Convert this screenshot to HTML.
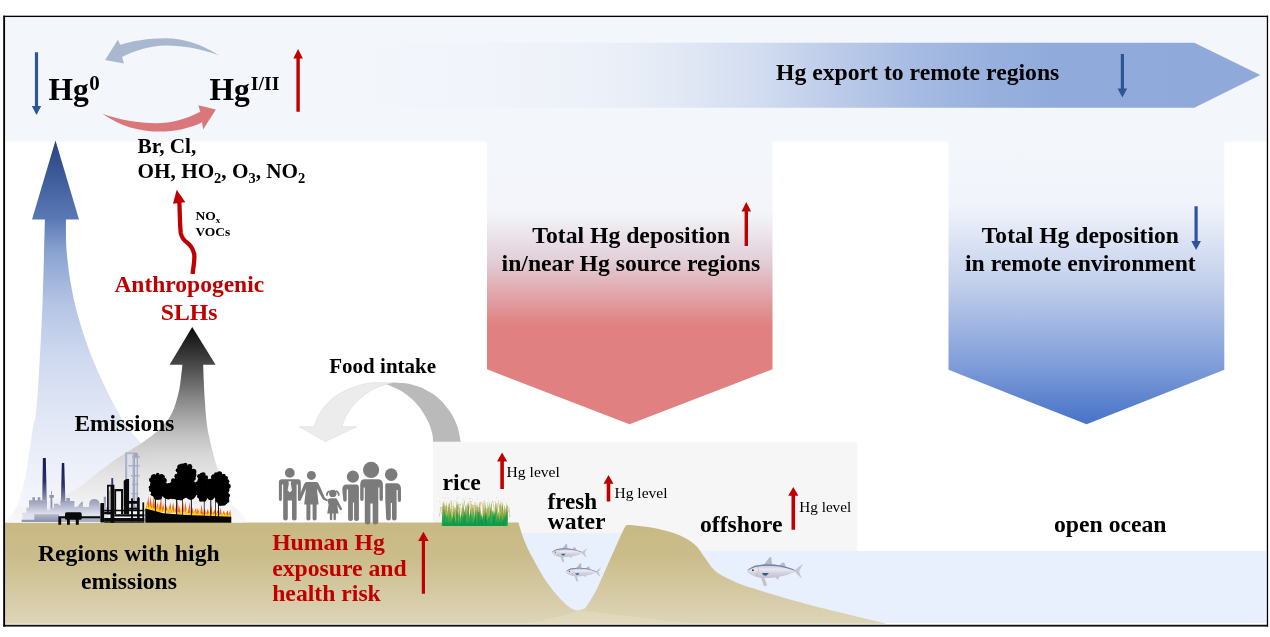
<!DOCTYPE html>
<html lang="en">
<head>
<meta charset="utf-8">
<title>Hg cycle and anthropogenic SLHs</title>
<style>
html,body{margin:0;padding:0;background:#fff;}
body{width:1270px;height:637px;overflow:hidden;position:relative;}
svg{position:absolute;left:0;top:0;display:block;will-change:transform;}
text{font-family:"Liberation Serif","Times New Roman",Times,serif;}
.b{font-weight:bold;}
.m{font-size:23.7px;font-weight:bold;fill:#000;}
.r{fill:#c00000;}
.lv{font-size:15.2px;fill:#000;}
</style>
</head>
<body>
<svg width="1270" height="637" viewBox="0 0 1270 637">
<defs>
  <linearGradient id="gExport" gradientUnits="userSpaceOnUse" x1="345" y1="0" x2="1260" y2="0">
    <stop offset="0" stop-color="#f3f6fb"/>
    <stop offset="0.15" stop-color="#f1f4fa"/>
    <stop offset="0.284" stop-color="#ecf0f8"/>
    <stop offset="0.366" stop-color="#e2e9f5"/>
    <stop offset="0.451" stop-color="#d2ddf0"/>
    <stop offset="0.536" stop-color="#bccbe9"/>
    <stop offset="0.619" stop-color="#a7bce3"/>
    <stop offset="0.705" stop-color="#97b0de"/>
    <stop offset="0.786" stop-color="#8faadb"/>
    <stop offset="1" stop-color="#8ea9da"/>
  </linearGradient>
  <linearGradient id="gRed" gradientUnits="userSpaceOnUse" x1="0" y1="141" x2="0" y2="425">
    <stop offset="0" stop-color="#f3f6fb"/>
    <stop offset="0.25" stop-color="#f3f5fa"/>
    <stop offset="0.42" stop-color="#e2cfd9"/>
    <stop offset="0.65" stop-color="#e08080"/>
    <stop offset="1" stop-color="#e08080"/>
  </linearGradient>
  <linearGradient id="gBlue" gradientUnits="userSpaceOnUse" x1="0" y1="141" x2="0" y2="425">
    <stop offset="0" stop-color="#f3f6fb"/>
    <stop offset="0.22" stop-color="#f1f4fa"/>
    <stop offset="0.5" stop-color="#c3d0ec"/>
    <stop offset="0.8" stop-color="#7d9bd8"/>
    <stop offset="1" stop-color="#4571c6"/>
  </linearGradient>
  <linearGradient id="gHg0" gradientUnits="userSpaceOnUse" x1="0" y1="140" x2="0" y2="523">
    <stop offset="0" stop-color="#284482"/>
    <stop offset="0.1" stop-color="#3f5d9b"/>
    <stop offset="0.205" stop-color="#5a79b4"/>
    <stop offset="0.293" stop-color="#8ba3d1"/>
    <stop offset="0.428" stop-color="#b4c4e4"/>
    <stop offset="0.56" stop-color="#ccd7ee" stop-opacity="0.97"/>
    <stop offset="0.70" stop-color="#dde4f4" stop-opacity="0.95"/>
    <stop offset="0.84" stop-color="#e9edf8" stop-opacity="0.9"/>
    <stop offset="1" stop-color="#f4f6fb" stop-opacity="0.8"/>
  </linearGradient>
  <linearGradient id="gEm" gradientUnits="userSpaceOnUse" x1="0" y1="327" x2="0" y2="523">
    <stop offset="0" stop-color="#0a0a0a"/>
    <stop offset="0.19" stop-color="#484848"/>
    <stop offset="0.38" stop-color="#8c8c8c"/>
    <stop offset="0.55" stop-color="#bebebe" stop-opacity="0.96"/>
    <stop offset="0.65" stop-color="#d4d4d4" stop-opacity="0.94"/>
    <stop offset="0.76" stop-color="#e3e3e3" stop-opacity="0.9"/>
    <stop offset="0.88" stop-color="#efefef" stop-opacity="0.85"/>
    <stop offset="1" stop-color="#f8f8f8" stop-opacity="0.7"/>
  </linearGradient>
  <linearGradient id="gGround" gradientUnits="userSpaceOnUse" x1="0" y1="522" x2="0" y2="624">
    <stop offset="0" stop-color="#c8b983"/>
    <stop offset="0.35" stop-color="#cbbd8b"/>
    <stop offset="1" stop-color="#ddd5b8"/>
  </linearGradient>
</defs>

<!-- background + top band -->
<rect x="0" y="0" width="1270" height="637" fill="#ffffff"/>
<rect x="4.5" y="16.5" width="1262" height="125" fill="#f3f6fb"/>

<!-- export arrow -->
<path d="M345 42.7H1194.3L1260.3 75L1194.3 107.7H345Z" fill="url(#gExport)"/>

<!-- deposition pentagons -->
<path d="M487 141H772.5V369.3L629.5 424.3L487 369.3Z" fill="url(#gRed)"/>
<path d="M948.5 141H1224.3V369.8L1086.6 424.3L948.5 369.8Z" fill="url(#gBlue)"/>

<!-- light grey panel behind rice / fresh water / offshore -->
<rect x="433" y="442" width="424.3" height="110" fill="#f6f6f6"/>
<!-- water: lake + ocean -->
<rect x="515" y="533" width="120" height="90" fill="#e8effd"/>
<rect x="640" y="551" width="626" height="72" fill="#e8effd"/>
<!-- ground -->
<path d="M5 522.6 H518.6 C518.9 523.8 519.5 526.4 520.5 529.5 C521.5 532.6 522.7 536.6 524.5 541.0 C526.3 545.4 527.7 548.9 531.5 555.9 C535.3 562.9 542.0 575.1 547.2 582.7 C552.5 590.3 559.0 597.4 563.0 601.6 C567.0 605.9 568.6 606.7 571.0 608.2 C573.4 609.7 575.3 610.2 577.2 610.4 C579.1 610.6 580.9 610.0 582.5 609.3 C584.1 608.6 584.1 609.9 586.6 606.3 C589.1 602.6 593.7 595.3 597.6 587.4 C601.5 579.5 606.2 568.0 610.2 559.1 C614.2 550.2 618.9 539.5 621.5 534.0 C624.1 528.5 624.9 527.2 625.6 525.8 C626.1 525.6 626.1 524.9 628.5 524.9 C630.9 524.9 635.2 525.4 640.0 526.0 C644.8 526.6 650.9 527.3 657.5 528.8 C664.1 530.3 673.2 532.5 679.5 535.2 C685.8 537.9 691.1 541.2 695.3 544.9 C699.5 548.6 701.6 553.3 704.7 557.5 C707.9 561.7 710.5 566.7 714.2 570.1 C717.9 573.5 720.5 575.0 726.8 578.0 C733.1 581.0 737.3 583.4 752.0 588.1 C766.7 592.8 792.6 600.4 815.0 606.3 C837.4 612.2 874.6 620.8 886.5 623.7 H5Z" fill="url(#gGround)"/>
<!-- faint shadow in the lake basin -->
<path d="M577 610.4 C600 612 640 618 700 623.7 H520 C545 620 565 616 577 610.4Z" fill="#e6dfc6" opacity="0.45"/>
<!-- big Hg0 upward arrow -->
<path d="M55.5 140.4 L79 219.4 H65.9 C66.0 224.8 65.7 240.2 66.7 252.0 C67.7 263.8 69.6 277.9 71.9 290.0 C74.2 302.1 77.0 313.0 80.5 324.5 C84.0 336.0 88.0 347.5 92.6 359.0 C97.2 370.5 103.6 384.1 108.2 393.6 C112.8 403.1 117.2 410.4 120.3 416.0 C123.4 421.6 122.7 421.7 127.0 427.0 C131.3 432.3 138.9 440.9 146.0 448.0 C153.1 455.1 160.6 462.4 169.6 469.5 C178.6 476.6 189.0 484.3 200.0 490.7 C211.0 497.1 227.5 502.7 235.5 508.0 C243.5 513.3 245.9 520.2 248.0 522.6 H5 C5.3 522.0 5.1 521.6 7.0 519.0 C8.9 516.4 13.3 514.5 16.5 507.0 C19.7 499.5 23.2 487.3 26.0 474.0 C28.8 460.7 31.4 436.7 33.0 427.0 C34.6 417.3 34.6 425.0 35.6 416.0 C36.6 407.0 37.9 391.7 39.0 373.0 C40.1 354.3 41.5 329.3 42.5 303.7 C43.5 278.1 44.5 233.4 44.9 219.4 H32Z" fill="url(#gHg0)"/>
<!-- emissions arrow -->
<path d="M192.2 327 L215.6 364.8 H203.2
 C203.6 380 204.2 392 205 402.5
 C205.8 416 207 427 208.9 435.5
 C210.8 445 213 454 215.5 462
 C218 470 220.5 478 223.8 485
 C227 492 229.5 498.5 232 504.8
 C234.5 510 238 516 241.5 522.6
 H12
 C13 514 14 509.5 15.7 508
 C20 506.8 25 506.4 29 506
 C43 504 56 499.5 66.7 494.8
 C76 490 84 484 91.3 477.8
 C100 471 108 465 116 459
 C127 452 137 446.5 146 440
 C156 433 162 427 166 422
 C171 416 174 409.5 175.9 402.5
 C178.6 394 180 387 180.8 379
 C181.4 374 182 369.5 182.4 364.8
 H169.6Z" fill="url(#gEm)"/>

<!-- Hg0 <-> HgI/II curved arrows -->
<path d="M218.7 55.2 C200 43 182 38.2 165.4 38.2 C148 38.2 132 41 120.2 44.8 L117.9 39.7 L105.1 59.9 L123.9 63.6 L122 57 C136 50 150 45.6 165.4 45.4 C184 45.4 202 49 218.7 55.2Z" fill="#a9b7cf"/>
<path transform="translate(0 -0.8)" d="M102.3 114.5 C120 127 140 132.4 159.7 132.4 C175 132.4 190 129 202.1 123 L203.1 130.2 L215.9 110.4 L198.4 106 L200.3 112.6 C186 120 172 124 156 124 C138 124 120 120.5 102.3 114.5Z" fill="#d9777a"/>

<!-- food intake curved arrow -->
<path d="M396.3 382.8 C392.8 382.8 380.9 382.5 375.0 382.8 C369.1 383.1 365.6 383.7 360.9 384.9 C356.2 386.1 350.9 388.0 346.7 389.9 C342.4 391.8 338.9 393.7 335.4 396.3 C331.8 398.9 328.2 402.2 325.4 405.5 C322.5 408.8 320.2 412.6 318.3 416.1 C316.4 419.6 314.8 424.9 314.1 426.7 H299.2 L325.4 441.6 L356.6 426.7 H341.7 C342.5 424.7 344.7 418.3 346.7 414.7 C348.7 411.1 351.0 408.0 353.8 404.8 C356.6 401.6 360.2 398.2 363.7 395.5 C367.2 392.8 371.2 390.4 375.0 388.5 C378.8 386.6 384.5 384.9 386.4 384.2 Z" fill="#ececec" stroke="#dcdcdc" stroke-width="0.6"/>
<path d="M386.4 384.2 C387.2 384.0 389.4 383.4 391.0 383.2 C392.6 383.0 393.1 382.6 396.3 382.8 C399.6 383.0 405.8 383.1 410.5 384.2 C415.2 385.3 419.9 386.8 424.6 389.2 C429.3 391.6 434.6 394.6 438.8 398.4 C443.1 402.2 447.0 407.2 450.1 411.8 C453.2 416.4 455.4 421.0 457.2 426.0 C459.0 431.0 460.2 439.2 460.8 441.8 H433.1 C433.0 440.6 433.1 437.6 432.4 434.5 C431.7 431.4 430.7 427.2 428.9 423.2 C427.1 419.2 424.6 414.4 421.8 410.4 C419.0 406.4 415.4 402.4 411.9 399.1 C408.3 395.8 404.8 393.1 400.5 390.6 C396.2 388.1 388.8 385.3 386.4 384.2 Z" fill="#bababa"/>

<!-- small straight arrows -->
<g fill="#2f5597">
  <path d="M34.9 52.2H38.1V106H41.2L36.5 115L31.8 106H34.9Z"/>
  <path d="M1120.8 54H1124V88.6H1127.2L1122.4 97.6L1117.6 88.6H1120.8Z"/>
  <path d="M1194.5 206.2H1197.7V241H1200.9L1196.1 250L1191.3 241H1194.5Z"/>
</g>
<g fill="#c00000">
  <path d="M296.4 111.8H299.8V58.4H302.9L298.1 49L293.3 58.4H296.4Z"/>
  <path d="M744.6 246H748V211.4H751.1L746.3 202.1L741.5 211.4H744.6Z"/>
  <path d="M421.8 593.7H425V541H428.6L423.4 531.7L418.2 541H421.8Z"/>
  <path d="M500.3 489H503.9V461.5H507.2L502.1 452.6L497 461.5H500.3Z"/>
  <path d="M606.7 501.6H610.3V483.8H613.5L608.5 475L603.5 483.8H606.7Z"/>
  <path d="M791.5 529.8H795.1V495.8H798.4L793.3 487L788.2 495.8H791.5Z"/>
</g>
<!-- wavy arrow from SLHs to oxidants -->
<path d="M192.6 274 C193.4 266 195 260 194.2 254 C192.6 247.5 190 244.8 187 242.6 C183.5 240 181.6 238 180.8 233 C179.8 225 179.9 212 179.3 201.5" fill="none" stroke="#c00000" stroke-width="4.3" stroke-linecap="butt"/>
<path d="M176.7 189.8 L185.4 202.3 L173 203.8Z" fill="#c00000"/>

<!-- people -->
<g fill="#7b7b7b">
  <!-- man with tie -->
  <circle cx="289.8" cy="472.9" r="4.9"/>
  <path d="M281.2 479.3 H298.6 Q300.8 479.3 300.8 481.8 V499 Q300.8 501 299.3 501 Q297.9 501 297.9 499 V484.5 H296.6 V518.6 Q296.6 520.5 294.3 520.5 Q292 520.5 292 518.6 V500.5 H287.8 V518.6 Q287.8 520.5 285.5 520.5 Q283.2 520.5 283.2 518.6 V484.5 H281.9 V499 Q281.9 501 280.4 501 Q278.9 501 278.9 499 V481.8 Q278.9 479.3 281.2 479.3Z"/>
  <!-- woman -->
  <circle cx="311.4" cy="475.4" r="4.5"/>
  <path d="M306.6 482 H316.4 Q318 482 318.8 484 L325 498 L327.8 499.4 L326.9 501.2 L322.9 499.4 L316.9 488.5 L318.6 504.6 H316.6 V518.7 Q316.6 520.4 314.6 520.4 Q312.6 520.4 312.6 518.7 V504.6 H310.4 V518.7 Q310.4 520.4 308.4 520.4 Q306.4 520.4 306.4 518.7 V504.6 H304.2 L306 488.5 L301.2 499.6 Q300.3 501.2 298.9 500.4 Q297.7 499.6 298.5 498 L304.2 484 Q305 482 306.6 482Z"/>
  <!-- girl -->
  <circle cx="332.8" cy="493.4" r="3.7"/>
  <path d="M326 495.8 Q325.6 491.2 329.6 490.2 L330 491.6 Q327.6 492.6 327.6 495.8Z"/>
  <path d="M339.6 495.8 Q340 491.2 336 490.2 L335.6 491.6 Q338 492.6 338 495.8Z"/>
  <path d="M330.3 498.3 H335.4 Q336.6 498.3 337.2 499.6 L341.9 508.4 Q342.4 509.6 341.4 510.1 Q340.4 510.6 339.8 509.5 L337.3 505 L338.4 513.4 H335.9 V519 Q335.9 520.3 334.7 520.3 Q333.5 520.3 333.5 519 V513.4 H332.2 V519 Q332.2 520.3 331 520.3 Q329.8 520.3 329.8 519 V513.4 H327.3 L328.6 504.5 L327.3 500.2 L328.3 498.9 Z"/>
  <!-- person 4 -->
  <circle cx="352.9" cy="476.7" r="6.1"/>
  <path d="M346.6 484.4 H356.4 Q358.9 484.4 358.9 487.4 V519 Q358.9 521 356.5 521 Q354.1 521 354.1 519 V502.5 H352.9 V519 Q352.9 521 350.5 521 Q348.1 521 348.1 519 V489.5 H346.7 V500 Q346.7 501.8 345 501.8 Q343.3 501.8 343.3 500 L342.3 490 Q342.2 484.4 346.6 484.4Z"/>
  <!-- big person 5 -->
  <circle cx="371.1" cy="469.9" r="8.1"/>
  <path d="M364.5 479.3 H377.9 Q382.9 479.3 382.9 485 V499 Q382.9 501 381.2 501 Q379.5 501 379.5 499 V487.5 H378.3 V522.3 Q378.3 524.4 375.5 524.4 Q372.7 524.4 372.7 522.3 V503.5 H370.4 V522.3 Q370.4 524.4 367.6 524.4 Q364.8 524.4 364.8 522.3 V487.5 H363.6 V499 Q363.6 501 361.9 501 Q360.2 501 360.2 499 V485 Q360.2 479.3 364.5 479.3Z"/>
  <!-- person 6 -->
  <circle cx="391.2" cy="474.6" r="6.3"/>
  <path d="M386.2 483.3 H396 Q401 483.3 401 489 V500.3 Q401 502 399.4 502 Q397.8 502 397.8 500.3 V490 H396.6 V518.5 Q396.6 520.4 394.3 520.4 Q392 520.4 392 518.5 V503 H390.8 V518.5 Q390.8 520.4 388.5 520.4 Q386.2 520.4 386.2 518.5 L385.3 500 V488 Q385 483.3 386.2 483.3Z"/>
</g>
<!-- tie -->
<path d="M288.4 481.3 H291.2 L290.8 483.6 L292 490.3 L289.8 492.4 L287.6 490.3 L288.8 483.6Z" fill="#f4f4f4"/>
<!-- factory skyline (drawn in 7.496x zoom coordinates) -->
<defs>
  <linearGradient id="gChim" x1="0" y1="0" x2="0" y2="1">
    <stop offset="0" stop-color="#141a55"/>
    <stop offset="0.55" stop-color="#2a3168"/>
    <stop offset="1" stop-color="#9499b5"/>
  </linearGradient>
  <linearGradient id="gBld" gradientUnits="userSpaceOnUse" x1="0" y1="390" x2="0" y2="520">
    <stop offset="0" stop-color="#8f94b2"/>
    <stop offset="0.35" stop-color="#a6aac2"/>
    <stop offset="1" stop-color="#dfe1ec"/>
  </linearGradient>
  <linearGradient id="gBase" gradientUnits="userSpaceOnUse" x1="0" y1="515" x2="0" y2="578">
    <stop offset="0" stop-color="#b7bace"/>
    <stop offset="1" stop-color="#8a8fab"/>
  </linearGradient>
  <linearGradient id="gTower" gradientUnits="userSpaceOnUse" x1="0" y1="55" x2="0" y2="490">
    <stop offset="0" stop-color="#aeb3ca"/>
    <stop offset="0.6" stop-color="#a0a5bf"/>
    <stop offset="1" stop-color="#868baa"/>
  </linearGradient>
</defs>
<g transform="translate(15 445) scale(0.1334)">
  <!-- tall distillation tower -->
  <path d="M825 55H915V480H825Z M842 70V470H880V70Z" fill="url(#gTower)" fill-rule="evenodd" opacity="0.9"/>
  <rect x="842" y="70" width="38" height="400" fill="#dfe2ec" opacity="0.75"/>
  <path d="M893 60H922V470H893Z" fill="#9fa4be" opacity="0.85"/>
  <path d="M900 95H912V460H900Z" fill="#e9ebf3" opacity="0.8"/>
  <path d="M880 80H935V96H880Z M850 150H935V162H850Z M870 225H935V236H870Z M878 290H925V300H878Z M870 360H925V370H870Z" fill="#a4a9c2" opacity="0.85"/>
  <!-- background buildings -->
  <path d="M55 575V508H85V470H105V415H130V392H150V415H170V392H190V415H240V470H292V440H328V452H340V420H385V398H412V420H445V465H465L500 425H510V465H555V440Q560 405 595 405Q630 405 635 440V465H665V388H682V465H700V575Z" fill="url(#gBld)"/>
  <path d="M50 560H145V520H330V578H50Z" fill="url(#gBase)"/>
  <path d="M330 548H700V578H330Z" fill="#9da1ba" opacity="0.8"/>
  <!-- antenna -->
  <path d="M270 345H276V375H292V395H280V470H266V395H258V375H270Z" fill="#8f94b2"/>
  <path d="M240 455H262V490H240Z" fill="#eef0f6" opacity="0.8"/>
  <!-- chimneys -->
  <path d="M209 97H231L238 415H204Z" fill="url(#gChim)"/>
  <path d="M351 135H369L378 425H344Z" fill="url(#gChim)"/>
  <rect x="722" y="248" width="14" height="55" fill="#2a3a8c"/>
  <!-- black pipework -->
  <g fill="#0a0a0a">
    <rect x="375" y="505" width="125" height="56" rx="12"/>
    <rect x="390" y="555" width="21" height="43"/>
    <rect x="456" y="555" width="22" height="43"/>
    <path d="M325 535H640V549H346V598H325Z"/>
    <rect x="640" y="435" width="28" height="146" rx="6"/>
    <path d="M690 298H745V582H716V520H690Z M703 312V500H716V312Z" fill-rule="evenodd"/>
    <path d="M745 330H810V520H795V346H758V520H745Z"/>
    <path d="M815 268L835 255H855V520H815Z"/>
    <path d="M668 485H970V497H668Z M745 520H970V536H745Z M668 548H970V572H668Z"/>
    <path d="M915 400L925 388L935 400V572H915Z"/>
    <rect x="955" y="430" width="13" height="142"/>
    <path d="M668 500H745V520H668Z M820 420H915V440H820Z M855 470H915V485H855Z M668 572H970V582H668Z"/>
    <rect x="870" y="400" width="14" height="172"/>
  </g>
  <path d="M706 340H713V480H706Z" fill="#8c8c8c" opacity="0.7"/>
</g>
<!-- FOREST:BEGIN -->
<!-- burning forest (drawn in 8.49x zoom coordinates) -->
<defs>
  <filter id="leaf" x="-5%" y="-5%" width="110%" height="110%">
    <feTurbulence type="fractalNoise" baseFrequency="0.06" numOctaves="2" seed="4" result="n"/>
    <feDisplacementMap in="SourceGraphic" in2="n" scale="14" xChannelSelector="R" yChannelSelector="G"/>
  </filter>
</defs>
<g transform="translate(140 455) scale(0.11779)">
  <path d="M45 469L56 396L67 447L68 382L89 450L108 408L111 461L126 387L133 470L150 405L155 469L168 408L177 477L192 432L199 484L219 419L221 481L236 436L243 482L247 418L265 492L279 417L287 493L297 439L309 491L328 439L331 490L351 431L353 499L377 434L375 497L391 442L397 499L412 461L419 495L433 471L441 505L462 465L463 507L475 455L485 505L502 448L507 500L518 470L529 510L543 476L551 510L564 483L573 503L584 457L595 508L610 467L617 508L629 460L639 508L658 483L661 511L668 476L683 512L699 493L705 517L721 478L727 516L734 478L749 519L762 481L771 517L775 539Z" fill="#ffe100"/>
  <path d="M50 470L73 346L77 452L88 351L104 458L116 353L131 468L153 396L158 478L181 351L185 478L196 407L212 490L217 410L239 487L259 400L266 487L283 401L293 493L319 379L320 491L329 419L347 500L367 400L374 499L385 395L401 503L424 401L428 502L449 445L455 504L476 447L482 501L488 449L509 509L522 421L536 506L548 451L563 506L573 457L590 510L606 426L617 506L637 459L644 509L660 467L671 514L681 444L698 517L710 472L725 513L747 465L752 516L766 462L772 519L772 539Z" fill="#f4541e" opacity="0.92"/>
  <path d="M48 470L66 409L72 453L83 418L96 451L105 439L120 464L134 415L144 470L152 432L168 476L186 450L192 485L204 447L216 488L233 458L240 484L257 450L264 490L274 457L288 486L293 467L312 494L324 478L336 493L357 469L360 498L383 461L384 496L392 461L408 495L433 488L432 505L457 486L456 498L469 473L480 508L505 477L504 504L514 494L528 508L539 495L552 510L555 494L576 505L589 479L600 505L619 495L624 507L642 488L648 512L658 489L672 513L686 499L696 511L709 497L720 511L727 495L744 516L767 500L768 518L770 539Z" fill="#ffd21a"/>
  <g fill="#050505">
    <path d="M45 455L200 495L400 510L775 525V576H45Z"/>
    <rect x="127" y="330" width="8" height="157"/><rect x="212" y="330" width="6" height="176"/><rect x="307" y="330" width="8" height="183"/><rect x="357" y="330" width="6" height="187"/><rect x="432" y="330" width="8" height="191"/><rect x="542" y="330" width="6" height="196"/><rect x="597" y="330" width="8" height="198"/><rect x="637" y="330" width="6" height="200"/><rect x="662" y="330" width="8" height="201"/>
    <g filter="url(#leaf)"><ellipse cx="150" cy="270" rx="66" ry="105"/><ellipse cx="385" cy="172" rx="74" ry="88"/><ellipse cx="330" cy="290" rx="92" ry="92"/><ellipse cx="430" cy="295" rx="56" ry="88"/><ellipse cx="530" cy="280" rx="52" ry="115"/><ellipse cx="672" cy="258" rx="84" ry="100"/><ellipse cx="700" cy="355" rx="58" ry="76"/><ellipse cx="240" cy="315" rx="56" ry="62"/><ellipse cx="600" cy="305" rx="46" ry="78"/><circle cx="212" cy="255" r="21"/><circle cx="206" cy="307" r="19"/><circle cx="197" cy="329" r="22"/><circle cx="168" cy="361" r="19"/><circle cx="150" cy="365" r="16"/><circle cx="135" cy="362" r="18"/><circle cx="105" cy="334" r="15"/><circle cx="91" cy="295" r="16"/><circle cx="88" cy="273" r="14"/><circle cx="97" cy="213" r="21"/><circle cx="111" cy="187" r="20"/><circle cx="119" cy="179" r="17"/><circle cx="150" cy="165" r="15"/><circle cx="181" cy="179" r="18"/><circle cx="189" cy="187" r="22"/><circle cx="204" cy="217" r="23"/><circle cx="457" cy="169" r="22"/><circle cx="453" cy="199" r="21"/><circle cx="440" cy="224" r="16"/><circle cx="405" cy="252" r="18"/><circle cx="379" cy="255" r="18"/><circle cx="348" cy="243" r="25"/><circle cx="330" cy="225" r="24"/><circle cx="318" cy="201" r="23"/><circle cx="313" cy="180" r="21"/><circle cx="321" cy="130" r="18"/><circle cx="341" cy="103" r="25"/><circle cx="356" cy="92" r="20"/><circle cx="384" cy="85" r="20"/><circle cx="422" cy="97" r="20"/><circle cx="428" cy="102" r="17"/><circle cx="453" cy="143" r="26"/><circle cx="418" cy="285" r="18"/><circle cx="409" cy="323" r="20"/><circle cx="390" cy="347" r="19"/><circle cx="348" cy="368" r="19"/><circle cx="319" cy="369" r="15"/><circle cx="278" cy="354" r="21"/><circle cx="253" cy="325" r="19"/><circle cx="242" cy="290" r="15"/><circle cx="246" cy="258" r="21"/><circle cx="281" cy="214" r="17"/><circle cx="315" cy="201" r="19"/><circle cx="360" cy="205" r="22"/><circle cx="383" cy="217" r="22"/><circle cx="414" cy="259" r="19"/><circle cx="578" cy="288" r="16"/><circle cx="574" cy="319" r="14"/><circle cx="556" cy="368" r="13"/><circle cx="547" cy="378" r="18"/><circle cx="516" cy="380" r="16"/><circle cx="496" cy="354" r="12"/><circle cx="488" cy="330" r="14"/><circle cx="482" cy="278" r="13"/><circle cx="484" cy="240" r="15"/><circle cx="505" cy="181" r="20"/><circle cx="523" cy="166" r="16"/><circle cx="537" cy="166" r="20"/><circle cx="560" cy="190" r="18"/><circle cx="570" cy="214" r="14"/><circle cx="748" cy="265" r="22"/><circle cx="740" cy="297" r="20"/><circle cx="731" cy="314" r="20"/><circle cx="702" cy="342" r="17"/><circle cx="683" cy="349" r="17"/><circle cx="650" cy="347" r="14"/><circle cx="627" cy="335" r="24"/><circle cx="618" cy="326" r="20"/><circle cx="596" cy="284" r="23"/><circle cx="592" cy="253" r="17"/><circle cx="596" cy="225" r="24"/><circle cx="617" cy="186" r="15"/><circle cx="623" cy="179" r="15"/><circle cx="646" cy="165" r="18"/><circle cx="675" cy="160" r="23"/><circle cx="712" cy="175" r="15"/><circle cx="730" cy="195" r="17"/><circle cx="743" cy="222" r="16"/><circle cx="752" cy="343" r="13"/><circle cx="743" cy="389" r="16"/><circle cx="715" cy="417" r="12"/><circle cx="681" cy="415" r="17"/><circle cx="656" cy="386" r="17"/><circle cx="649" cy="360" r="15"/><circle cx="654" cy="317" r="17"/><circle cx="679" cy="286" r="16"/><circle cx="712" cy="282" r="16"/><circle cx="740" cy="306" r="12"/></g>
  </g>
</g>
<!-- FOREST:END -->
<!-- RICE:BEGIN -->
<!-- rice plants (drawn in 15.875x zoom coordinates) -->
<g transform="translate(435 490) scale(0.062992)">
<ellipse cx="284" cy="260" rx="6" ry="9" fill="#7fbf4f" opacity="0.76"/><ellipse cx="1059" cy="212" rx="6" ry="9" fill="#d9b36a" opacity="0.41"/><ellipse cx="533" cy="231" rx="6" ry="9" fill="#e3c788" opacity="0.49"/><ellipse cx="753" cy="253" rx="6" ry="9" fill="#9acb5a" opacity="0.40"/><ellipse cx="564" cy="139" rx="6" ry="9" fill="#7fbf4f" opacity="0.67"/><ellipse cx="949" cy="184" rx="6" ry="9" fill="#e3c788" opacity="0.43"/><ellipse cx="697" cy="211" rx="6" ry="9" fill="#d9b36a" opacity="0.47"/><ellipse cx="973" cy="116" rx="6" ry="9" fill="#7fbf4f" opacity="0.66"/><ellipse cx="701" cy="233" rx="6" ry="9" fill="#7fbf4f" opacity="0.73"/><ellipse cx="601" cy="245" rx="6" ry="9" fill="#7fbf4f" opacity="0.61"/><ellipse cx="335" cy="179" rx="6" ry="9" fill="#7fbf4f" opacity="0.68"/><ellipse cx="491" cy="127" rx="6" ry="9" fill="#7fbf4f" opacity="0.68"/><ellipse cx="597" cy="151" rx="6" ry="9" fill="#d9b36a" opacity="0.79"/><ellipse cx="704" cy="198" rx="6" ry="9" fill="#9acb5a" opacity="0.79"/><ellipse cx="1166" cy="137" rx="6" ry="9" fill="#9acb5a" opacity="0.45"/><ellipse cx="732" cy="204" rx="6" ry="9" fill="#7fbf4f" opacity="0.67"/><ellipse cx="376" cy="199" rx="6" ry="9" fill="#9acb5a" opacity="0.41"/><ellipse cx="92" cy="222" rx="6" ry="9" fill="#9acb5a" opacity="0.46"/><ellipse cx="1096" cy="149" rx="6" ry="9" fill="#d9b36a" opacity="0.61"/><ellipse cx="843" cy="149" rx="6" ry="9" fill="#9acb5a" opacity="0.54"/><ellipse cx="1006" cy="256" rx="6" ry="9" fill="#d9b36a" opacity="0.47"/><ellipse cx="553" cy="135" rx="6" ry="9" fill="#9acb5a" opacity="0.72"/><ellipse cx="131" cy="256" rx="6" ry="9" fill="#d9b36a" opacity="0.80"/><ellipse cx="966" cy="256" rx="6" ry="9" fill="#e3c788" opacity="0.79"/><ellipse cx="207" cy="129" rx="6" ry="9" fill="#d9b36a" opacity="0.51"/><ellipse cx="1029" cy="252" rx="6" ry="9" fill="#9acb5a" opacity="0.66"/><ellipse cx="1040" cy="227" rx="6" ry="9" fill="#9acb5a" opacity="0.59"/><ellipse cx="676" cy="149" rx="6" ry="9" fill="#d9b36a" opacity="0.66"/><ellipse cx="296" cy="209" rx="6" ry="9" fill="#7fbf4f" opacity="0.42"/><ellipse cx="451" cy="144" rx="6" ry="9" fill="#7fbf4f" opacity="0.63"/><ellipse cx="76" cy="180" rx="6" ry="9" fill="#d9b36a" opacity="0.68"/><ellipse cx="839" cy="200" rx="6" ry="9" fill="#d9b36a" opacity="0.72"/><ellipse cx="585" cy="184" rx="6" ry="9" fill="#7fbf4f" opacity="0.64"/><ellipse cx="414" cy="210" rx="6" ry="9" fill="#e3c788" opacity="0.73"/><ellipse cx="308" cy="174" rx="6" ry="9" fill="#d9b36a" opacity="0.78"/><ellipse cx="119" cy="121" rx="6" ry="9" fill="#d9b36a" opacity="0.57"/><ellipse cx="483" cy="260" rx="6" ry="9" fill="#9acb5a" opacity="0.44"/><ellipse cx="350" cy="129" rx="6" ry="9" fill="#9acb5a" opacity="0.79"/><ellipse cx="158" cy="122" rx="6" ry="9" fill="#d9b36a" opacity="0.65"/><ellipse cx="216" cy="235" rx="6" ry="9" fill="#d9b36a" opacity="0.69"/>
<path d="M103 565Q118 371 147 212Q144 388 137 565Z" fill="#4da040"/><path d="M113 565Q133 384 174 235Q160 400 145 565Z" fill="#8db544"/><path d="M124 565Q124 383 121 235Q144 400 154 565Z" fill="#4da040"/><path d="M137 565Q141 362 146 195Q159 380 163 565Z" fill="#9cbb4c"/><path d="M144 565Q142 356 132 185Q161 375 176 565Z" fill="#8db544"/><path d="M153 565Q148 342 130 159Q167 362 186 565Z" fill="#8db544"/><path d="M170 565Q190 398 231 262Q216 413 200 565Z" fill="#8db544"/><path d="M177 565Q178 342 173 160Q200 362 213 565Z" fill="#9cbb4c"/><path d="M193 565Q191 392 181 251Q207 408 219 565Z" fill="#7aa83c"/><path d="M202 565Q212 355 230 182Q235 374 233 565Z" fill="#5fa23a"/><path d="M211 565Q214 393 215 252Q235 408 243 565Z" fill="#8db544"/><path d="M222 565Q218 364 205 199Q240 382 257 565Z" fill="#7aa83c"/><path d="M240 565Q245 392 251 251Q266 408 270 565Z" fill="#9cbb4c"/><path d="M254 565Q247 374 227 218Q261 392 279 565Z" fill="#8db544"/><path d="M267 565Q263 343 251 162Q279 363 293 565Z" fill="#9cbb4c"/><path d="M275 565Q284 393 299 252Q308 408 308 565Z" fill="#7aa83c"/><path d="M291 565Q294 358 298 188Q313 376 318 565Z" fill="#9cbb4c"/><path d="M304 565Q308 414 311 291Q329 428 336 565Z" fill="#8db544"/><path d="M318 565Q326 346 341 166Q346 366 345 565Z" fill="#5fa23a"/><path d="M326 565Q338 356 359 185Q362 375 359 565Z" fill="#5fa23a"/><path d="M341 565Q337 409 323 281Q359 423 377 565Z" fill="#4da040"/><path d="M360 565Q374 419 401 300Q396 433 388 565Z" fill="#5fa23a"/><path d="M369 565Q365 387 351 242Q386 403 404 565Z" fill="#7aa83c"/><path d="M383 565Q384 394 380 255Q407 410 419 565Z" fill="#4da040"/><path d="M404 565Q418 370 447 210Q439 388 429 565Z" fill="#9cbb4c"/><path d="M415 565Q420 417 426 296Q438 431 441 565Z" fill="#4da040"/><path d="M428 565Q434 341 444 159Q455 362 458 565Z" fill="#5fa23a"/><path d="M443 565Q447 398 452 261Q464 413 468 565Z" fill="#9cbb4c"/><path d="M453 565Q453 378 446 225Q475 395 488 565Z" fill="#5fa23a"/><path d="M465 565Q473 381 487 231Q495 398 496 565Z" fill="#4da040"/><path d="M476 565Q491 357 522 187Q517 376 508 565Z" fill="#7aa83c"/><path d="M493 565Q505 392 530 250Q527 408 520 565Z" fill="#9cbb4c"/><path d="M499 565Q514 341 542 158Q541 361 535 565Z" fill="#5fa23a"/><path d="M515 565Q510 374 492 218Q527 391 546 565Z" fill="#5fa23a"/><path d="M527 565Q529 399 528 264Q548 414 557 565Z" fill="#5fa23a"/><path d="M536 565Q551 369 580 208Q578 387 570 565Z" fill="#5fa23a"/><path d="M554 565Q572 408 607 279Q596 422 584 565Z" fill="#5fa23a"/><path d="M572 565Q579 379 592 227Q598 396 598 565Z" fill="#5fa23a"/><path d="M584 565Q597 383 622 233Q622 399 616 565Z" fill="#9cbb4c"/><path d="M594 565Q604 358 623 188Q628 376 626 565Z" fill="#9cbb4c"/><path d="M608 565Q625 376 660 222Q648 394 635 565Z" fill="#7aa83c"/><path d="M619 565Q629 374 648 217Q649 391 645 565Z" fill="#8db544"/><path d="M632 565Q638 419 648 299Q657 432 659 565Z" fill="#7aa83c"/><path d="M646 565Q666 413 708 288Q691 427 675 565Z" fill="#4da040"/><path d="M654 565Q659 384 664 235Q680 400 685 565Z" fill="#4da040"/><path d="M666 565Q670 363 674 197Q689 381 694 565Z" fill="#5fa23a"/><path d="M680 565Q693 351 717 175Q716 370 710 565Z" fill="#7aa83c"/><path d="M693 565Q695 397 695 260Q715 412 723 565Z" fill="#4da040"/><path d="M705 565Q702 393 691 252Q719 409 734 565Z" fill="#4da040"/><path d="M717 565Q715 392 705 250Q734 407 748 565Z" fill="#4da040"/><path d="M732 565Q729 406 717 275Q744 420 757 565Z" fill="#7aa83c"/><path d="M741 565Q760 395 799 256Q786 411 772 565Z" fill="#5fa23a"/><path d="M755 565Q759 348 764 171Q779 368 785 565Z" fill="#8db544"/><path d="M768 565Q781 382 806 233Q803 399 797 565Z" fill="#8db544"/><path d="M781 565Q801 401 844 266Q827 416 811 565Z" fill="#9cbb4c"/><path d="M787 565Q791 344 792 163Q814 364 822 565Z" fill="#8db544"/><path d="M802 565Q813 412 833 287Q835 426 832 565Z" fill="#5fa23a"/><path d="M812 565Q816 411 822 285Q836 425 841 565Z" fill="#4da040"/><path d="M824 565Q838 345 868 165Q860 365 851 565Z" fill="#5fa23a"/><path d="M837 565Q839 362 838 197Q858 381 867 565Z" fill="#9cbb4c"/><path d="M847 565Q866 351 904 175Q894 370 882 565Z" fill="#7aa83c"/><path d="M865 565Q873 397 887 260Q894 412 893 565Z" fill="#5fa23a"/><path d="M877 565Q881 420 885 301Q903 433 909 565Z" fill="#4da040"/><path d="M887 565Q896 422 913 305Q920 435 919 565Z" fill="#7aa83c"/><path d="M902 565Q897 377 880 223Q916 394 935 565Z" fill="#9cbb4c"/><path d="M916 565Q936 365 977 202Q963 383 947 565Z" fill="#9cbb4c"/><path d="M927 565Q941 366 969 203Q968 384 961 565Z" fill="#9cbb4c"/><path d="M943 565Q960 417 994 295Q986 430 975 565Z" fill="#9cbb4c"/><path d="M958 565Q964 369 974 208Q984 386 986 565Z" fill="#8db544"/><path d="M970 565Q977 377 989 223Q997 394 998 565Z" fill="#8db544"/><path d="M980 565Q976 377 961 224Q995 394 1013 565Z" fill="#5fa23a"/><path d="M999 565Q1010 357 1031 186Q1028 376 1023 565Z" fill="#9cbb4c"/><path d="M1014 565Q1026 340 1050 155Q1046 360 1039 565Z" fill="#7aa83c"/><path d="M1021 565Q1041 369 1083 208Q1069 387 1054 565Z" fill="#8db544"/><path d="M1040 565Q1045 364 1053 199Q1063 382 1066 565Z" fill="#8db544"/><path d="M1053 565Q1063 409 1081 281Q1081 423 1077 565Z" fill="#7aa83c"/><path d="M1063 565Q1065 360 1064 193Q1085 379 1094 565Z" fill="#7aa83c"/><path d="M1078 565Q1076 350 1065 173Q1093 369 1108 565Z" fill="#5fa23a"/><path d="M1091 565Q1095 382 1099 232Q1116 398 1123 565Z" fill="#7aa83c"/><path d="M1101 565Q1110 398 1128 261Q1134 413 1133 565Z" fill="#5fa23a"/><path d="M1118 565Q1129 376 1148 222Q1149 393 1146 565Z" fill="#4da040"/><path d="M1125 565Q1128 353 1128 180Q1151 373 1161 565Z" fill="#8db544"/>
<ellipse cx="90" cy="281" rx="7" ry="12" fill="#d39a4a" opacity="0.82"/><ellipse cx="87" cy="303" rx="5" ry="12" fill="#c8a24e" opacity="0.83"/><ellipse cx="84" cy="325" rx="6" ry="13" fill="#e0a050" opacity="0.94"/><ellipse cx="81" cy="347" rx="5" ry="11" fill="#c8a24e" opacity="0.87"/><ellipse cx="78" cy="369" rx="5" ry="10" fill="#e0a050" opacity="0.85"/><ellipse cx="75" cy="391" rx="6" ry="9" fill="#e0a050" opacity="0.90"/><ellipse cx="72" cy="413" rx="5" ry="11" fill="#dcaa5c" opacity="0.90"/><ellipse cx="107" cy="276" rx="6" ry="12" fill="#dcaa5c" opacity="0.84"/><ellipse cx="111" cy="298" rx="7" ry="11" fill="#dcaa5c" opacity="0.81"/><ellipse cx="115" cy="320" rx="7" ry="11" fill="#c98f45" opacity="0.77"/><ellipse cx="119" cy="342" rx="5" ry="9" fill="#c98f45" opacity="0.71"/><ellipse cx="123" cy="364" rx="6" ry="13" fill="#dcaa5c" opacity="0.65"/><ellipse cx="126" cy="386" rx="6" ry="13" fill="#c8a24e" opacity="0.93"/><ellipse cx="130" cy="408" rx="6" ry="11" fill="#c98f45" opacity="0.70"/><ellipse cx="134" cy="430" rx="5" ry="10" fill="#e0a050" opacity="0.91"/><ellipse cx="127" cy="208" rx="5" ry="10" fill="#c98f45" opacity="0.66"/><ellipse cx="125" cy="230" rx="8" ry="10" fill="#dcaa5c" opacity="0.74"/><ellipse cx="123" cy="252" rx="5" ry="9" fill="#e0a050" opacity="0.79"/><ellipse cx="121" cy="274" rx="8" ry="9" fill="#dcaa5c" opacity="0.74"/><ellipse cx="119" cy="296" rx="7" ry="12" fill="#c98f45" opacity="0.66"/><ellipse cx="117" cy="318" rx="7" ry="11" fill="#d39a4a" opacity="0.84"/><ellipse cx="115" cy="340" rx="8" ry="12" fill="#dcaa5c" opacity="0.71"/><ellipse cx="113" cy="362" rx="6" ry="9" fill="#e0a050" opacity="0.70"/><ellipse cx="144" cy="201" rx="7" ry="12" fill="#dcaa5c" opacity="0.65"/><ellipse cx="139" cy="223" rx="5" ry="12" fill="#e0a050" opacity="0.70"/><ellipse cx="135" cy="245" rx="5" ry="12" fill="#c8a24e" opacity="0.82"/><ellipse cx="130" cy="267" rx="8" ry="12" fill="#c98f45" opacity="0.92"/><ellipse cx="126" cy="289" rx="6" ry="13" fill="#d39a4a" opacity="0.85"/><ellipse cx="121" cy="311" rx="7" ry="11" fill="#d39a4a" opacity="0.66"/><ellipse cx="117" cy="333" rx="8" ry="11" fill="#d39a4a" opacity="0.91"/><ellipse cx="112" cy="355" rx="8" ry="10" fill="#c8a24e" opacity="0.84"/><ellipse cx="108" cy="377" rx="6" ry="10" fill="#dcaa5c" opacity="0.89"/><ellipse cx="159" cy="260" rx="6" ry="9" fill="#c8a24e" opacity="0.76"/><ellipse cx="163" cy="282" rx="6" ry="12" fill="#c8a24e" opacity="0.84"/><ellipse cx="168" cy="304" rx="7" ry="13" fill="#dcaa5c" opacity="0.86"/><ellipse cx="172" cy="326" rx="8" ry="13" fill="#c8a24e" opacity="0.68"/><ellipse cx="177" cy="348" rx="6" ry="9" fill="#dcaa5c" opacity="0.90"/><ellipse cx="177" cy="251" rx="7" ry="12" fill="#c8a24e" opacity="0.85"/><ellipse cx="177" cy="273" rx="6" ry="11" fill="#c98f45" opacity="0.66"/><ellipse cx="177" cy="295" rx="6" ry="10" fill="#dcaa5c" opacity="0.92"/><ellipse cx="177" cy="317" rx="5" ry="12" fill="#e0a050" opacity="0.88"/><ellipse cx="178" cy="339" rx="7" ry="13" fill="#c98f45" opacity="0.82"/><ellipse cx="196" cy="268" rx="7" ry="12" fill="#dcaa5c" opacity="0.68"/><ellipse cx="202" cy="290" rx="7" ry="11" fill="#dcaa5c" opacity="0.67"/><ellipse cx="207" cy="312" rx="6" ry="10" fill="#dcaa5c" opacity="0.74"/><ellipse cx="213" cy="334" rx="5" ry="12" fill="#c8a24e" opacity="0.66"/><ellipse cx="218" cy="356" rx="5" ry="13" fill="#dcaa5c" opacity="0.78"/><ellipse cx="224" cy="378" rx="6" ry="13" fill="#d39a4a" opacity="0.72"/><ellipse cx="229" cy="400" rx="6" ry="10" fill="#dcaa5c" opacity="0.76"/><ellipse cx="235" cy="422" rx="5" ry="11" fill="#c98f45" opacity="0.87"/><ellipse cx="240" cy="444" rx="5" ry="11" fill="#c98f45" opacity="0.84"/><ellipse cx="212" cy="289" rx="6" ry="13" fill="#e0a050" opacity="0.83"/><ellipse cx="208" cy="311" rx="6" ry="9" fill="#c98f45" opacity="0.81"/><ellipse cx="204" cy="333" rx="8" ry="11" fill="#d39a4a" opacity="0.69"/><ellipse cx="201" cy="355" rx="8" ry="12" fill="#c98f45" opacity="0.94"/><ellipse cx="197" cy="377" rx="5" ry="11" fill="#e0a050" opacity="0.86"/><ellipse cx="193" cy="399" rx="6" ry="11" fill="#c98f45" opacity="0.73"/><ellipse cx="190" cy="421" rx="6" ry="11" fill="#dcaa5c" opacity="0.88"/><ellipse cx="235" cy="223" rx="8" ry="12" fill="#d39a4a" opacity="0.84"/><ellipse cx="233" cy="245" rx="6" ry="10" fill="#c98f45" opacity="0.80"/><ellipse cx="231" cy="267" rx="5" ry="10" fill="#d39a4a" opacity="0.88"/><ellipse cx="228" cy="289" rx="6" ry="13" fill="#dcaa5c" opacity="0.79"/><ellipse cx="226" cy="311" rx="6" ry="11" fill="#d39a4a" opacity="0.89"/><ellipse cx="224" cy="333" rx="6" ry="9" fill="#c8a24e" opacity="0.83"/><ellipse cx="257" cy="173" rx="7" ry="11" fill="#c8a24e" opacity="0.79"/><ellipse cx="259" cy="195" rx="7" ry="11" fill="#c8a24e" opacity="0.93"/><ellipse cx="262" cy="217" rx="7" ry="12" fill="#c8a24e" opacity="0.69"/><ellipse cx="264" cy="239" rx="6" ry="13" fill="#d39a4a" opacity="0.85"/><ellipse cx="267" cy="261" rx="7" ry="10" fill="#d39a4a" opacity="0.66"/><ellipse cx="269" cy="283" rx="7" ry="11" fill="#e0a050" opacity="0.74"/><ellipse cx="271" cy="305" rx="8" ry="10" fill="#c98f45" opacity="0.67"/><ellipse cx="280" cy="314" rx="6" ry="12" fill="#c8a24e" opacity="0.83"/><ellipse cx="278" cy="336" rx="6" ry="11" fill="#d39a4a" opacity="0.72"/><ellipse cx="276" cy="358" rx="8" ry="11" fill="#e0a050" opacity="0.94"/><ellipse cx="275" cy="380" rx="7" ry="11" fill="#c8a24e" opacity="0.92"/><ellipse cx="273" cy="402" rx="8" ry="11" fill="#e0a050" opacity="0.75"/><ellipse cx="271" cy="424" rx="8" ry="13" fill="#dcaa5c" opacity="0.72"/><ellipse cx="270" cy="446" rx="5" ry="10" fill="#dcaa5c" opacity="0.89"/><ellipse cx="268" cy="468" rx="5" ry="13" fill="#d39a4a" opacity="0.84"/><ellipse cx="266" cy="490" rx="7" ry="10" fill="#d39a4a" opacity="0.82"/><ellipse cx="301" cy="302" rx="6" ry="11" fill="#c8a24e" opacity="0.83"/><ellipse cx="304" cy="324" rx="6" ry="11" fill="#d39a4a" opacity="0.83"/><ellipse cx="307" cy="346" rx="8" ry="10" fill="#d39a4a" opacity="0.69"/><ellipse cx="310" cy="368" rx="6" ry="11" fill="#c8a24e" opacity="0.71"/><ellipse cx="313" cy="390" rx="6" ry="11" fill="#dcaa5c" opacity="0.87"/><ellipse cx="316" cy="412" rx="5" ry="11" fill="#c8a24e" opacity="0.94"/><ellipse cx="319" cy="434" rx="6" ry="12" fill="#e0a050" opacity="0.93"/><ellipse cx="322" cy="456" rx="6" ry="12" fill="#e0a050" opacity="0.90"/><ellipse cx="325" cy="478" rx="5" ry="12" fill="#d39a4a" opacity="0.68"/><ellipse cx="317" cy="284" rx="6" ry="10" fill="#c98f45" opacity="0.86"/><ellipse cx="318" cy="306" rx="8" ry="13" fill="#d39a4a" opacity="0.76"/><ellipse cx="320" cy="328" rx="7" ry="10" fill="#dcaa5c" opacity="0.76"/><ellipse cx="321" cy="350" rx="6" ry="12" fill="#d39a4a" opacity="0.72"/><ellipse cx="322" cy="372" rx="8" ry="11" fill="#d39a4a" opacity="0.69"/><ellipse cx="324" cy="394" rx="7" ry="10" fill="#d39a4a" opacity="0.80"/><ellipse cx="325" cy="416" rx="8" ry="13" fill="#d39a4a" opacity="0.80"/><ellipse cx="326" cy="438" rx="8" ry="12" fill="#d39a4a" opacity="0.69"/><ellipse cx="337" cy="283" rx="6" ry="10" fill="#e0a050" opacity="0.84"/><ellipse cx="334" cy="305" rx="7" ry="9" fill="#d39a4a" opacity="0.74"/><ellipse cx="331" cy="327" rx="6" ry="12" fill="#c8a24e" opacity="0.78"/><ellipse cx="328" cy="349" rx="6" ry="13" fill="#dcaa5c" opacity="0.85"/><ellipse cx="325" cy="371" rx="5" ry="10" fill="#d39a4a" opacity="0.82"/><ellipse cx="323" cy="393" rx="6" ry="10" fill="#e0a050" opacity="0.91"/><ellipse cx="354" cy="223" rx="5" ry="12" fill="#dcaa5c" opacity="0.89"/><ellipse cx="358" cy="245" rx="5" ry="11" fill="#e0a050" opacity="0.91"/><ellipse cx="362" cy="267" rx="5" ry="13" fill="#c98f45" opacity="0.94"/><ellipse cx="366" cy="289" rx="6" ry="11" fill="#d39a4a" opacity="0.94"/><ellipse cx="369" cy="311" rx="7" ry="12" fill="#e0a050" opacity="0.80"/><ellipse cx="373" cy="333" rx="5" ry="11" fill="#c8a24e" opacity="0.78"/><ellipse cx="377" cy="355" rx="7" ry="13" fill="#c8a24e" opacity="0.84"/><ellipse cx="368" cy="233" rx="7" ry="12" fill="#e0a050" opacity="0.92"/><ellipse cx="371" cy="255" rx="6" ry="13" fill="#c98f45" opacity="0.92"/><ellipse cx="374" cy="277" rx="5" ry="12" fill="#e0a050" opacity="0.90"/><ellipse cx="377" cy="299" rx="5" ry="10" fill="#e0a050" opacity="0.78"/><ellipse cx="385" cy="225" rx="7" ry="12" fill="#e0a050" opacity="0.67"/><ellipse cx="380" cy="247" rx="7" ry="9" fill="#e0a050" opacity="0.92"/><ellipse cx="376" cy="269" rx="6" ry="9" fill="#e0a050" opacity="0.94"/><ellipse cx="371" cy="291" rx="7" ry="10" fill="#c98f45" opacity="0.67"/><ellipse cx="366" cy="313" rx="6" ry="11" fill="#d39a4a" opacity="0.71"/><ellipse cx="361" cy="335" rx="6" ry="10" fill="#dcaa5c" opacity="0.75"/><ellipse cx="356" cy="357" rx="6" ry="10" fill="#c8a24e" opacity="0.68"/><ellipse cx="401" cy="230" rx="8" ry="11" fill="#e0a050" opacity="0.94"/><ellipse cx="399" cy="252" rx="6" ry="11" fill="#dcaa5c" opacity="0.66"/><ellipse cx="397" cy="274" rx="5" ry="11" fill="#c98f45" opacity="0.79"/><ellipse cx="396" cy="296" rx="7" ry="9" fill="#c98f45" opacity="0.78"/><ellipse cx="394" cy="318" rx="7" ry="11" fill="#dcaa5c" opacity="0.67"/><ellipse cx="392" cy="340" rx="7" ry="9" fill="#e0a050" opacity="0.92"/><ellipse cx="391" cy="362" rx="7" ry="11" fill="#e0a050" opacity="0.79"/><ellipse cx="389" cy="384" rx="7" ry="13" fill="#dcaa5c" opacity="0.82"/><ellipse cx="388" cy="406" rx="6" ry="11" fill="#c8a24e" opacity="0.93"/><ellipse cx="427" cy="297" rx="7" ry="12" fill="#d39a4a" opacity="0.87"/><ellipse cx="428" cy="319" rx="7" ry="11" fill="#c8a24e" opacity="0.74"/><ellipse cx="430" cy="341" rx="7" ry="12" fill="#c98f45" opacity="0.79"/><ellipse cx="431" cy="363" rx="5" ry="9" fill="#c8a24e" opacity="0.71"/><ellipse cx="433" cy="385" rx="6" ry="9" fill="#d39a4a" opacity="0.69"/><ellipse cx="434" cy="407" rx="8" ry="10" fill="#dcaa5c" opacity="0.73"/><ellipse cx="444" cy="281" rx="7" ry="12" fill="#e0a050" opacity="0.70"/><ellipse cx="442" cy="303" rx="7" ry="12" fill="#c8a24e" opacity="0.91"/><ellipse cx="440" cy="325" rx="6" ry="13" fill="#c98f45" opacity="0.83"/><ellipse cx="438" cy="347" rx="7" ry="13" fill="#dcaa5c" opacity="0.82"/><ellipse cx="435" cy="369" rx="5" ry="9" fill="#c8a24e" opacity="0.80"/><ellipse cx="468" cy="174" rx="6" ry="11" fill="#e0a050" opacity="0.83"/><ellipse cx="468" cy="196" rx="6" ry="13" fill="#d39a4a" opacity="0.86"/><ellipse cx="467" cy="218" rx="7" ry="11" fill="#d39a4a" opacity="0.67"/><ellipse cx="467" cy="240" rx="6" ry="12" fill="#c8a24e" opacity="0.87"/><ellipse cx="483" cy="272" rx="6" ry="10" fill="#e0a050" opacity="0.74"/><ellipse cx="481" cy="294" rx="5" ry="12" fill="#c8a24e" opacity="0.85"/><ellipse cx="479" cy="316" rx="6" ry="11" fill="#c98f45" opacity="0.93"/><ellipse cx="477" cy="338" rx="6" ry="11" fill="#e0a050" opacity="0.68"/><ellipse cx="475" cy="360" rx="6" ry="9" fill="#e0a050" opacity="0.78"/><ellipse cx="473" cy="382" rx="7" ry="11" fill="#c98f45" opacity="0.69"/><ellipse cx="471" cy="404" rx="6" ry="12" fill="#e0a050" opacity="0.93"/><ellipse cx="469" cy="426" rx="6" ry="9" fill="#e0a050" opacity="0.73"/><ellipse cx="467" cy="448" rx="6" ry="11" fill="#c98f45" opacity="0.82"/><ellipse cx="505" cy="253" rx="6" ry="11" fill="#c98f45" opacity="0.73"/><ellipse cx="503" cy="275" rx="6" ry="13" fill="#dcaa5c" opacity="0.80"/><ellipse cx="501" cy="297" rx="7" ry="9" fill="#d39a4a" opacity="0.86"/><ellipse cx="498" cy="319" rx="5" ry="9" fill="#dcaa5c" opacity="0.90"/><ellipse cx="496" cy="341" rx="7" ry="9" fill="#c8a24e" opacity="0.77"/><ellipse cx="494" cy="363" rx="7" ry="12" fill="#dcaa5c" opacity="0.68"/><ellipse cx="492" cy="385" rx="8" ry="13" fill="#dcaa5c" opacity="0.67"/><ellipse cx="528" cy="320" rx="5" ry="9" fill="#d39a4a" opacity="0.93"/><ellipse cx="527" cy="342" rx="7" ry="13" fill="#c8a24e" opacity="0.77"/><ellipse cx="527" cy="364" rx="6" ry="9" fill="#e0a050" opacity="0.66"/><ellipse cx="526" cy="386" rx="7" ry="10" fill="#d39a4a" opacity="0.85"/><ellipse cx="526" cy="408" rx="6" ry="10" fill="#d39a4a" opacity="0.79"/><ellipse cx="525" cy="430" rx="5" ry="12" fill="#d39a4a" opacity="0.83"/><ellipse cx="525" cy="452" rx="5" ry="12" fill="#c8a24e" opacity="0.76"/><ellipse cx="543" cy="253" rx="6" ry="10" fill="#c8a24e" opacity="0.94"/><ellipse cx="549" cy="275" rx="5" ry="12" fill="#c98f45" opacity="0.93"/><ellipse cx="555" cy="297" rx="6" ry="12" fill="#c8a24e" opacity="0.67"/><ellipse cx="560" cy="319" rx="6" ry="12" fill="#e0a050" opacity="0.74"/><ellipse cx="566" cy="341" rx="7" ry="12" fill="#c8a24e" opacity="0.73"/><ellipse cx="572" cy="363" rx="5" ry="12" fill="#e0a050" opacity="0.79"/><ellipse cx="566" cy="185" rx="6" ry="13" fill="#d39a4a" opacity="0.78"/><ellipse cx="568" cy="207" rx="6" ry="10" fill="#d39a4a" opacity="0.87"/><ellipse cx="569" cy="229" rx="6" ry="11" fill="#c98f45" opacity="0.89"/><ellipse cx="571" cy="251" rx="6" ry="10" fill="#dcaa5c" opacity="0.84"/><ellipse cx="572" cy="273" rx="7" ry="11" fill="#c8a24e" opacity="0.69"/><ellipse cx="574" cy="295" rx="7" ry="10" fill="#c8a24e" opacity="0.79"/><ellipse cx="576" cy="317" rx="8" ry="12" fill="#c8a24e" opacity="0.93"/><ellipse cx="577" cy="339" rx="6" ry="10" fill="#dcaa5c" opacity="0.69"/><ellipse cx="585" cy="226" rx="6" ry="10" fill="#d39a4a" opacity="0.65"/><ellipse cx="589" cy="248" rx="8" ry="10" fill="#e0a050" opacity="0.85"/><ellipse cx="592" cy="270" rx="6" ry="12" fill="#e0a050" opacity="0.75"/><ellipse cx="596" cy="292" rx="7" ry="11" fill="#c8a24e" opacity="0.89"/><ellipse cx="599" cy="314" rx="5" ry="11" fill="#d39a4a" opacity="0.81"/><ellipse cx="603" cy="336" rx="6" ry="11" fill="#dcaa5c" opacity="0.66"/><ellipse cx="606" cy="358" rx="7" ry="11" fill="#d39a4a" opacity="0.87"/><ellipse cx="601" cy="298" rx="7" ry="12" fill="#e0a050" opacity="0.78"/><ellipse cx="599" cy="320" rx="8" ry="12" fill="#d39a4a" opacity="0.71"/><ellipse cx="597" cy="342" rx="6" ry="9" fill="#c8a24e" opacity="0.76"/><ellipse cx="594" cy="364" rx="7" ry="10" fill="#d39a4a" opacity="0.76"/><ellipse cx="592" cy="386" rx="7" ry="12" fill="#e0a050" opacity="0.89"/><ellipse cx="624" cy="250" rx="6" ry="11" fill="#c98f45" opacity="0.88"/><ellipse cx="619" cy="272" rx="5" ry="11" fill="#e0a050" opacity="0.92"/><ellipse cx="614" cy="294" rx="6" ry="10" fill="#d39a4a" opacity="0.66"/><ellipse cx="609" cy="316" rx="7" ry="12" fill="#c8a24e" opacity="0.79"/><ellipse cx="604" cy="338" rx="7" ry="11" fill="#c8a24e" opacity="0.71"/><ellipse cx="599" cy="360" rx="7" ry="11" fill="#c8a24e" opacity="0.71"/><ellipse cx="639" cy="200" rx="8" ry="10" fill="#e0a050" opacity="0.65"/><ellipse cx="640" cy="222" rx="6" ry="10" fill="#e0a050" opacity="0.77"/><ellipse cx="641" cy="244" rx="7" ry="9" fill="#e0a050" opacity="0.86"/><ellipse cx="641" cy="266" rx="6" ry="11" fill="#e0a050" opacity="0.69"/><ellipse cx="642" cy="288" rx="8" ry="10" fill="#c8a24e" opacity="0.88"/><ellipse cx="643" cy="310" rx="7" ry="12" fill="#dcaa5c" opacity="0.88"/><ellipse cx="663" cy="289" rx="7" ry="12" fill="#e0a050" opacity="0.87"/><ellipse cx="663" cy="311" rx="6" ry="11" fill="#d39a4a" opacity="0.71"/><ellipse cx="662" cy="333" rx="7" ry="12" fill="#dcaa5c" opacity="0.84"/><ellipse cx="662" cy="355" rx="7" ry="11" fill="#c98f45" opacity="0.84"/><ellipse cx="662" cy="377" rx="6" ry="11" fill="#e0a050" opacity="0.93"/><ellipse cx="661" cy="399" rx="7" ry="12" fill="#e0a050" opacity="0.94"/><ellipse cx="661" cy="421" rx="8" ry="10" fill="#d39a4a" opacity="0.80"/><ellipse cx="682" cy="278" rx="8" ry="10" fill="#c8a24e" opacity="0.79"/><ellipse cx="681" cy="300" rx="8" ry="11" fill="#c8a24e" opacity="0.77"/><ellipse cx="680" cy="322" rx="6" ry="11" fill="#d39a4a" opacity="0.72"/><ellipse cx="679" cy="344" rx="6" ry="12" fill="#d39a4a" opacity="0.88"/><ellipse cx="702" cy="270" rx="5" ry="12" fill="#e0a050" opacity="0.70"/><ellipse cx="703" cy="292" rx="6" ry="12" fill="#d39a4a" opacity="0.74"/><ellipse cx="705" cy="314" rx="7" ry="9" fill="#c8a24e" opacity="0.92"/><ellipse cx="706" cy="336" rx="7" ry="12" fill="#d39a4a" opacity="0.66"/><ellipse cx="722" cy="202" rx="6" ry="11" fill="#c8a24e" opacity="0.67"/><ellipse cx="720" cy="224" rx="7" ry="10" fill="#dcaa5c" opacity="0.90"/><ellipse cx="718" cy="246" rx="7" ry="9" fill="#e0a050" opacity="0.74"/><ellipse cx="717" cy="268" rx="5" ry="10" fill="#e0a050" opacity="0.68"/><ellipse cx="715" cy="290" rx="6" ry="10" fill="#d39a4a" opacity="0.79"/><ellipse cx="713" cy="312" rx="5" ry="12" fill="#dcaa5c" opacity="0.66"/><ellipse cx="712" cy="334" rx="8" ry="12" fill="#d39a4a" opacity="0.83"/><ellipse cx="746" cy="210" rx="7" ry="10" fill="#c8a24e" opacity="0.68"/><ellipse cx="750" cy="232" rx="7" ry="13" fill="#e0a050" opacity="0.85"/><ellipse cx="754" cy="254" rx="7" ry="11" fill="#e0a050" opacity="0.69"/><ellipse cx="758" cy="276" rx="5" ry="10" fill="#d39a4a" opacity="0.74"/><ellipse cx="763" cy="298" rx="6" ry="11" fill="#c8a24e" opacity="0.68"/><ellipse cx="767" cy="320" rx="5" ry="10" fill="#dcaa5c" opacity="0.66"/><ellipse cx="762" cy="306" rx="5" ry="12" fill="#dcaa5c" opacity="0.78"/><ellipse cx="757" cy="328" rx="6" ry="11" fill="#dcaa5c" opacity="0.70"/><ellipse cx="753" cy="350" rx="6" ry="12" fill="#c8a24e" opacity="0.82"/><ellipse cx="749" cy="372" rx="6" ry="11" fill="#e0a050" opacity="0.90"/><ellipse cx="745" cy="394" rx="6" ry="11" fill="#dcaa5c" opacity="0.90"/><ellipse cx="740" cy="416" rx="5" ry="11" fill="#dcaa5c" opacity="0.76"/><ellipse cx="736" cy="438" rx="7" ry="13" fill="#d39a4a" opacity="0.77"/><ellipse cx="732" cy="460" rx="8" ry="13" fill="#c98f45" opacity="0.69"/><ellipse cx="728" cy="482" rx="7" ry="11" fill="#dcaa5c" opacity="0.73"/><ellipse cx="778" cy="171" rx="6" ry="10" fill="#c98f45" opacity="0.78"/><ellipse cx="780" cy="193" rx="7" ry="11" fill="#dcaa5c" opacity="0.76"/><ellipse cx="783" cy="215" rx="6" ry="10" fill="#e0a050" opacity="0.72"/><ellipse cx="785" cy="237" rx="6" ry="11" fill="#c8a24e" opacity="0.66"/><ellipse cx="788" cy="259" rx="5" ry="11" fill="#d39a4a" opacity="0.75"/><ellipse cx="790" cy="281" rx="7" ry="10" fill="#d39a4a" opacity="0.66"/><ellipse cx="793" cy="303" rx="6" ry="10" fill="#c8a24e" opacity="0.71"/><ellipse cx="803" cy="288" rx="6" ry="9" fill="#d39a4a" opacity="0.88"/><ellipse cx="800" cy="310" rx="5" ry="12" fill="#d39a4a" opacity="0.72"/><ellipse cx="798" cy="332" rx="5" ry="9" fill="#c8a24e" opacity="0.93"/><ellipse cx="795" cy="354" rx="8" ry="12" fill="#dcaa5c" opacity="0.77"/><ellipse cx="793" cy="376" rx="7" ry="10" fill="#e0a050" opacity="0.70"/><ellipse cx="790" cy="398" rx="7" ry="11" fill="#d39a4a" opacity="0.88"/><ellipse cx="822" cy="298" rx="7" ry="13" fill="#c8a24e" opacity="0.72"/><ellipse cx="825" cy="320" rx="7" ry="9" fill="#e0a050" opacity="0.66"/><ellipse cx="828" cy="342" rx="6" ry="11" fill="#d39a4a" opacity="0.87"/><ellipse cx="832" cy="364" rx="8" ry="10" fill="#c98f45" opacity="0.94"/><ellipse cx="835" cy="386" rx="6" ry="12" fill="#d39a4a" opacity="0.83"/><ellipse cx="840" cy="223" rx="6" ry="12" fill="#c8a24e" opacity="0.74"/><ellipse cx="838" cy="245" rx="5" ry="9" fill="#c8a24e" opacity="0.71"/><ellipse cx="836" cy="267" rx="8" ry="11" fill="#d39a4a" opacity="0.72"/><ellipse cx="834" cy="289" rx="6" ry="12" fill="#c8a24e" opacity="0.72"/><ellipse cx="832" cy="311" rx="8" ry="10" fill="#c98f45" opacity="0.69"/><ellipse cx="830" cy="333" rx="7" ry="12" fill="#c8a24e" opacity="0.80"/><ellipse cx="828" cy="355" rx="8" ry="12" fill="#dcaa5c" opacity="0.67"/><ellipse cx="857" cy="290" rx="7" ry="12" fill="#c8a24e" opacity="0.79"/><ellipse cx="859" cy="312" rx="7" ry="12" fill="#dcaa5c" opacity="0.65"/><ellipse cx="861" cy="334" rx="5" ry="10" fill="#dcaa5c" opacity="0.76"/><ellipse cx="863" cy="356" rx="8" ry="12" fill="#c8a24e" opacity="0.84"/><ellipse cx="865" cy="378" rx="5" ry="11" fill="#c8a24e" opacity="0.84"/><ellipse cx="867" cy="400" rx="7" ry="11" fill="#d39a4a" opacity="0.92"/><ellipse cx="869" cy="422" rx="6" ry="11" fill="#c98f45" opacity="0.73"/><ellipse cx="872" cy="294" rx="7" ry="10" fill="#d39a4a" opacity="0.84"/><ellipse cx="870" cy="316" rx="5" ry="10" fill="#dcaa5c" opacity="0.89"/><ellipse cx="868" cy="338" rx="6" ry="12" fill="#d39a4a" opacity="0.79"/><ellipse cx="866" cy="360" rx="6" ry="10" fill="#e0a050" opacity="0.93"/><ellipse cx="864" cy="382" rx="5" ry="13" fill="#e0a050" opacity="0.83"/><ellipse cx="862" cy="404" rx="5" ry="11" fill="#dcaa5c" opacity="0.75"/><ellipse cx="860" cy="426" rx="7" ry="10" fill="#c8a24e" opacity="0.89"/><ellipse cx="895" cy="309" rx="7" ry="12" fill="#c98f45" opacity="0.82"/><ellipse cx="897" cy="331" rx="7" ry="12" fill="#dcaa5c" opacity="0.88"/><ellipse cx="900" cy="353" rx="6" ry="11" fill="#c8a24e" opacity="0.91"/><ellipse cx="903" cy="375" rx="6" ry="12" fill="#e0a050" opacity="0.93"/><ellipse cx="906" cy="397" rx="6" ry="11" fill="#c98f45" opacity="0.75"/><ellipse cx="917" cy="183" rx="7" ry="11" fill="#d39a4a" opacity="0.91"/><ellipse cx="921" cy="205" rx="5" ry="11" fill="#c8a24e" opacity="0.85"/><ellipse cx="924" cy="227" rx="5" ry="9" fill="#d39a4a" opacity="0.90"/><ellipse cx="928" cy="249" rx="5" ry="11" fill="#c98f45" opacity="0.93"/><ellipse cx="931" cy="271" rx="7" ry="10" fill="#e0a050" opacity="0.81"/><ellipse cx="939" cy="283" rx="6" ry="10" fill="#c8a24e" opacity="0.80"/><ellipse cx="938" cy="305" rx="7" ry="11" fill="#d39a4a" opacity="0.88"/><ellipse cx="937" cy="327" rx="7" ry="9" fill="#d39a4a" opacity="0.71"/><ellipse cx="935" cy="349" rx="7" ry="10" fill="#dcaa5c" opacity="0.72"/><ellipse cx="934" cy="371" rx="7" ry="11" fill="#d39a4a" opacity="0.82"/><ellipse cx="933" cy="393" rx="8" ry="11" fill="#dcaa5c" opacity="0.77"/><ellipse cx="932" cy="415" rx="6" ry="11" fill="#dcaa5c" opacity="0.69"/><ellipse cx="930" cy="437" rx="5" ry="10" fill="#c98f45" opacity="0.93"/><ellipse cx="929" cy="459" rx="6" ry="10" fill="#dcaa5c" opacity="0.68"/><ellipse cx="960" cy="188" rx="6" ry="10" fill="#d39a4a" opacity="0.68"/><ellipse cx="961" cy="210" rx="6" ry="10" fill="#c98f45" opacity="0.75"/><ellipse cx="961" cy="232" rx="8" ry="9" fill="#e0a050" opacity="0.76"/><ellipse cx="962" cy="254" rx="5" ry="12" fill="#c8a24e" opacity="0.86"/><ellipse cx="963" cy="276" rx="7" ry="12" fill="#d39a4a" opacity="0.74"/><ellipse cx="964" cy="298" rx="7" ry="10" fill="#c98f45" opacity="0.76"/><ellipse cx="985" cy="212" rx="8" ry="9" fill="#e0a050" opacity="0.74"/><ellipse cx="985" cy="234" rx="8" ry="11" fill="#dcaa5c" opacity="0.81"/><ellipse cx="985" cy="256" rx="5" ry="13" fill="#d39a4a" opacity="0.68"/><ellipse cx="985" cy="278" rx="6" ry="13" fill="#c8a24e" opacity="0.77"/><ellipse cx="985" cy="300" rx="6" ry="12" fill="#e0a050" opacity="0.81"/><ellipse cx="984" cy="322" rx="6" ry="10" fill="#d39a4a" opacity="0.66"/><ellipse cx="1007" cy="172" rx="6" ry="10" fill="#dcaa5c" opacity="0.92"/><ellipse cx="1009" cy="194" rx="6" ry="10" fill="#e0a050" opacity="0.79"/><ellipse cx="1012" cy="216" rx="5" ry="9" fill="#c8a24e" opacity="0.81"/><ellipse cx="1014" cy="238" rx="8" ry="11" fill="#e0a050" opacity="0.93"/><ellipse cx="1017" cy="260" rx="7" ry="9" fill="#e0a050" opacity="0.81"/><ellipse cx="1019" cy="282" rx="8" ry="10" fill="#dcaa5c" opacity="0.72"/><ellipse cx="1021" cy="304" rx="5" ry="11" fill="#c98f45" opacity="0.72"/><ellipse cx="1032" cy="244" rx="5" ry="13" fill="#dcaa5c" opacity="0.79"/><ellipse cx="1036" cy="266" rx="8" ry="10" fill="#e0a050" opacity="0.75"/><ellipse cx="1039" cy="288" rx="8" ry="12" fill="#c98f45" opacity="0.67"/><ellipse cx="1043" cy="310" rx="6" ry="12" fill="#dcaa5c" opacity="0.85"/><ellipse cx="1047" cy="332" rx="5" ry="10" fill="#dcaa5c" opacity="0.89"/><ellipse cx="1050" cy="354" rx="8" ry="11" fill="#e0a050" opacity="0.76"/><ellipse cx="1054" cy="376" rx="6" ry="11" fill="#c98f45" opacity="0.83"/><ellipse cx="1058" cy="398" rx="7" ry="13" fill="#d39a4a" opacity="0.75"/><ellipse cx="1061" cy="420" rx="5" ry="12" fill="#e0a050" opacity="0.88"/><ellipse cx="1054" cy="271" rx="8" ry="10" fill="#e0a050" opacity="0.68"/><ellipse cx="1050" cy="293" rx="5" ry="13" fill="#c98f45" opacity="0.75"/><ellipse cx="1046" cy="315" rx="6" ry="10" fill="#dcaa5c" opacity="0.80"/><ellipse cx="1042" cy="337" rx="6" ry="13" fill="#d39a4a" opacity="0.88"/><ellipse cx="1039" cy="359" rx="6" ry="9" fill="#e0a050" opacity="0.76"/><ellipse cx="1035" cy="381" rx="6" ry="10" fill="#c8a24e" opacity="0.75"/><ellipse cx="1031" cy="403" rx="7" ry="12" fill="#c98f45" opacity="0.79"/><ellipse cx="1079" cy="318" rx="7" ry="13" fill="#d39a4a" opacity="0.89"/><ellipse cx="1077" cy="340" rx="7" ry="10" fill="#e0a050" opacity="0.88"/><ellipse cx="1075" cy="362" rx="7" ry="12" fill="#c8a24e" opacity="0.75"/><ellipse cx="1073" cy="384" rx="6" ry="9" fill="#d39a4a" opacity="0.91"/><ellipse cx="1071" cy="406" rx="7" ry="13" fill="#d39a4a" opacity="0.86"/><ellipse cx="1069" cy="428" rx="6" ry="13" fill="#c98f45" opacity="0.86"/><ellipse cx="1067" cy="450" rx="8" ry="10" fill="#c98f45" opacity="0.83"/><ellipse cx="1101" cy="261" rx="8" ry="11" fill="#e0a050" opacity="0.75"/><ellipse cx="1102" cy="283" rx="6" ry="10" fill="#dcaa5c" opacity="0.85"/><ellipse cx="1102" cy="305" rx="6" ry="11" fill="#c98f45" opacity="0.73"/><ellipse cx="1102" cy="327" rx="5" ry="9" fill="#c8a24e" opacity="0.68"/><ellipse cx="1103" cy="349" rx="6" ry="12" fill="#d39a4a" opacity="0.91"/><ellipse cx="1127" cy="302" rx="7" ry="10" fill="#c8a24e" opacity="0.73"/><ellipse cx="1123" cy="324" rx="8" ry="13" fill="#c8a24e" opacity="0.71"/><ellipse cx="1118" cy="346" rx="8" ry="12" fill="#e0a050" opacity="0.69"/><ellipse cx="1114" cy="368" rx="7" ry="10" fill="#c98f45" opacity="0.84"/><ellipse cx="1109" cy="390" rx="7" ry="10" fill="#d39a4a" opacity="0.77"/><ellipse cx="1104" cy="412" rx="5" ry="12" fill="#c98f45" opacity="0.92"/><ellipse cx="1100" cy="434" rx="6" ry="9" fill="#d39a4a" opacity="0.68"/><ellipse cx="1148" cy="258" rx="6" ry="12" fill="#e0a050" opacity="0.80"/><ellipse cx="1153" cy="280" rx="6" ry="9" fill="#c98f45" opacity="0.81"/><ellipse cx="1159" cy="302" rx="7" ry="13" fill="#c8a24e" opacity="0.90"/><ellipse cx="1165" cy="324" rx="5" ry="10" fill="#e0a050" opacity="0.84"/><ellipse cx="1171" cy="346" rx="5" ry="9" fill="#d39a4a" opacity="0.77"/><ellipse cx="1173" cy="273" rx="6" ry="12" fill="#dcaa5c" opacity="0.90"/><ellipse cx="1176" cy="295" rx="6" ry="13" fill="#e0a050" opacity="0.69"/><ellipse cx="1178" cy="317" rx="7" ry="13" fill="#d39a4a" opacity="0.71"/><ellipse cx="1180" cy="339" rx="7" ry="11" fill="#c98f45" opacity="0.75"/><ellipse cx="1182" cy="361" rx="7" ry="12" fill="#d39a4a" opacity="0.75"/><ellipse cx="1184" cy="383" rx="6" ry="9" fill="#d39a4a" opacity="0.67"/><ellipse cx="1187" cy="405" rx="8" ry="10" fill="#c98f45" opacity="0.92"/><ellipse cx="1189" cy="427" rx="8" ry="11" fill="#dcaa5c" opacity="0.76"/>
<path d="M114 570Q118 439 120 332Q138 451 146 570Z" fill="#1fa650"/><path d="M134 570Q140 422 148 301Q160 436 163 570Z" fill="#0f9a4c"/><path d="M148 570Q154 423 161 303Q179 437 184 570Z" fill="#2aa84a"/><path d="M169 570Q175 463 185 375Q197 472 200 570Z" fill="#1fa650"/><path d="M191 570Q195 469 201 387Q217 478 223 570Z" fill="#14a04f"/><path d="M213 570Q223 434 242 322Q248 446 246 570Z" fill="#2aa84a"/><path d="M238 570Q243 448 251 348Q266 459 271 570Z" fill="#2aa84a"/><path d="M257 570Q267 486 284 417Q291 493 289 570Z" fill="#0f9a4c"/><path d="M279 570Q288 432 304 320Q310 445 309 570Z" fill="#14a04f"/><path d="M305 570Q303 458 294 367Q320 469 333 570Z" fill="#0f9a4c"/><path d="M324 570Q337 446 362 345Q361 457 354 570Z" fill="#2aa84a"/><path d="M340 570Q343 429 346 314Q366 442 373 570Z" fill="#14a04f"/><path d="M367 570Q377 478 394 403Q398 486 396 570Z" fill="#1fa650"/><path d="M389 570Q404 440 433 334Q428 452 420 570Z" fill="#2aa84a"/><path d="M405 570Q416 478 436 403Q439 486 436 570Z" fill="#14a04f"/><path d="M418 570Q434 468 463 385Q462 477 455 570Z" fill="#1fa650"/><path d="M441 570Q451 423 468 303Q476 436 476 570Z" fill="#0f9a4c"/><path d="M462 570Q472 458 490 367Q493 468 490 570Z" fill="#0f9a4c"/><path d="M485 570Q489 457 493 365Q508 468 513 570Z" fill="#2aa84a"/><path d="M505 570Q517 422 540 301Q543 436 540 570Z" fill="#1fa650"/><path d="M524 570Q529 442 535 338Q551 454 556 570Z" fill="#2aa84a"/><path d="M539 570Q551 425 572 306Q578 438 576 570Z" fill="#14a04f"/><path d="M556 570Q560 482 564 410Q585 490 593 570Z" fill="#14a04f"/><path d="M576 570Q588 437 611 328Q614 449 610 570Z" fill="#1fa650"/><path d="M602 570Q615 483 639 412Q638 491 632 570Z" fill="#14a04f"/><path d="M624 570Q635 424 657 305Q656 437 652 570Z" fill="#0b8f47"/><path d="M644 570Q657 429 684 313Q679 442 671 570Z" fill="#2aa84a"/><path d="M659 570Q668 457 682 364Q694 467 695 570Z" fill="#1fa650"/><path d="M681 570Q686 435 692 324Q705 447 710 570Z" fill="#0b8f47"/><path d="M701 570Q715 473 741 393Q740 481 733 570Z" fill="#0f9a4c"/><path d="M727 570Q735 466 748 381Q758 475 759 570Z" fill="#0b8f47"/><path d="M745 570Q756 470 776 388Q779 479 776 570Z" fill="#0b8f47"/><path d="M766 570Q772 447 779 346Q795 458 800 570Z" fill="#1fa650"/><path d="M782 570Q792 443 807 340Q818 455 819 570Z" fill="#14a04f"/><path d="M798 570Q800 467 799 382Q825 476 836 570Z" fill="#0b8f47"/><path d="M819 570Q833 472 860 391Q861 481 855 570Z" fill="#14a04f"/><path d="M842 570Q858 425 888 306Q883 438 875 570Z" fill="#1fa650"/><path d="M865 570Q876 434 896 323Q900 446 897 570Z" fill="#1fa650"/><path d="M892 570Q901 424 918 305Q923 437 921 570Z" fill="#2aa84a"/><path d="M909 570Q915 430 924 316Q939 443 943 570Z" fill="#0f9a4c"/><path d="M935 570Q939 438 943 330Q958 450 963 570Z" fill="#0b8f47"/><path d="M950 570Q953 430 953 315Q978 443 988 570Z" fill="#1fa650"/><path d="M972 570Q980 486 993 417Q999 494 999 570Z" fill="#0f9a4c"/><path d="M988 570Q995 440 1005 333Q1019 451 1022 570Z" fill="#2aa84a"/><path d="M1009 570Q1024 461 1052 372Q1051 471 1045 570Z" fill="#0b8f47"/><path d="M1033 570Q1036 481 1036 408Q1059 489 1068 570Z" fill="#2aa84a"/><path d="M1053 570Q1056 486 1056 418Q1078 494 1086 570Z" fill="#0f9a4c"/><path d="M1070 570Q1082 478 1104 403Q1109 487 1106 570Z" fill="#0b8f47"/><path d="M1099 570Q1112 426 1139 307Q1134 439 1126 570Z" fill="#14a04f"/><path d="M1111 570Q1125 425 1153 307Q1154 438 1149 570Z" fill="#14a04f"/>
<rect x="130" y="520" width="985" height="50" fill="#0f9a4c" opacity="0.85"/>
</g>
<!-- RICE:END -->
<!-- fish -->
<defs>
  <linearGradient id="gFish" x1="0" y1="0" x2="0" y2="1">
    <stop offset="0" stop-color="#b9bccd"/>
    <stop offset="0.35" stop-color="#e9e9f0"/>
    <stop offset="0.7" stop-color="#cfced9"/>
    <stop offset="1" stop-color="#c2c1cd"/>
  </linearGradient>
  <g id="fish">
    <path d="M30 -11 L41 -25 Q44 -26 44 -22 L45 -10Z M58 -9 Q62 -17 67 -15 L70 -7Z" fill="#b8b9c6"/>
    <path d="M25 11 L30 26 Q33 29 36 25 L31 11Z M51 11 L58 9 L56 16Z" fill="#c3c2cd"/>
    <path d="M86 -1.5 Q93 -8 101 -13 Q95 -3 93.5 0.5 Q95 6 99 14 Q91 8 86 1.5Z" fill="#c6c5d0"/>
    <path d="M0 -1 Q4 -6 14 -9.5 Q34 -14 58 -10.5 Q76 -7 87 -1.5 L87 1.5 Q74 8 58 10.5 Q38 14.5 20 11.5 Q8 8 1.5 3 Q-0.5 1 0 -1Z" fill="url(#gFish)"/>
    <path d="M1 -2 Q6 -6.5 14 -9.5 Q34 -14 58 -10.5 Q76 -7 87 -1.5 L86 -0.5 Q74 -5 58 -8 Q36 -11.5 15 -7 Q8 -5 2 -1Z" fill="#6e80ab"/>
    <path d="M20 -8 Q23 2 16 10" fill="none" stroke="#a9a9b8" stroke-width="0.8"/>
    <path d="M27 3.5 H39.5 L34.5 8.5 L29.5 7.5Z" fill="#2f5f8f"/>
    <circle cx="10.5" cy="-1.5" r="1.7" fill="#2b2b33"/>
  </g>
</defs>
<use href="#fish" transform="translate(551.6 552.6) scale(0.354)"/>
<use href="#fish" transform="translate(565.7 571.9) scale(0.351)"/>
<use href="#fish" transform="translate(747 571) scale(0.557)"/>

<!-- text labels -->
<text x="48.6" y="100" class="b" font-size="31.5">Hg<tspan font-size="21" dx="0.5" dy="-9.6">0</tspan></text>
<text x="209.5" y="100" class="b" font-size="31.5">Hg<tspan font-size="19.8" dx="1" dy="-10.3">I/II</tspan></text>
<text x="776" y="79.6" class="m">Hg export to remote regions</text>

<text x="137.6" y="153.2" class="b" font-size="21.2">Br, Cl,</text>
<text x="137.6" y="178.3" class="b" font-size="21.2">OH, HO<tspan font-size="14.5" dy="4.7">2</tspan><tspan dy="-4.7">, O</tspan><tspan font-size="14.5" dy="4.7">3</tspan><tspan dy="-4.7">, NO</tspan><tspan font-size="14.5" dy="4.7">2</tspan></text>
<text x="195.4" y="220" class="b" font-size="13.5">NO<tspan font-size="9" dy="3">x</tspan></text>
<text x="195.4" y="235.6" class="b" font-size="13.5">VOCs</text>
<text x="114.4" y="291.8" class="m r" style="font-size:23.5px">Anthropogenic</text>
<text x="160.8" y="320.2" class="m r">SLHs</text>

<text x="532.3" y="242.8" class="m">Total Hg deposition</text>
<text x="501.6" y="271" class="m">in/near Hg source regions</text>
<text x="981.8" y="242.8" class="m" style="font-size:23.6px">Total Hg deposition</text>
<text x="965" y="271" class="m">in remote environment</text>

<text x="74.5" y="430.9" class="m" style="font-size:23.3px">Emissions</text>
<text x="329.3" y="372.8" class="b" font-size="21">Food intake</text>
<text x="38" y="560.6" class="m">Regions with high</text>
<text x="80.9" y="588.7" class="m">emissions</text>
<text x="272.2" y="550.3" class="m r">Human Hg</text>
<text x="272.2" y="575.6" class="m r">exposure and</text>
<text x="272.2" y="600.9" class="m r">health risk</text>

<text x="442.6" y="489.8" class="m">rice</text>
<text x="506.6" y="477" class="lv" style="font-size:15.6px">Hg level</text>
<text x="547.6" y="509.2" class="m" style="font-size:23.1px">fresh</text>
<text x="547.6" y="529" class="m">water</text>
<text x="614.5" y="497.5" class="lv" style="font-size:15.5px">Hg level</text>
<text x="700" y="532" class="m">offshore</text>
<text x="799.3" y="512.2" class="lv">Hg level</text>
<text x="1054" y="531.6" class="m">open ocean</text>

<!-- frame -->
<g fill="#000">
  <rect x="3.2" y="15.7" width="1264.9" height="1.35"/>
  <rect x="3.2" y="15.7" width="1.85" height="610.9"/>
  <rect x="3.2" y="624.75" width="1264.9" height="1.85" fill="#111"/>
  <rect x="1266.8" y="15.7" width="1.3" height="610.9"/>
</g>
</svg>
</body>
</html>
